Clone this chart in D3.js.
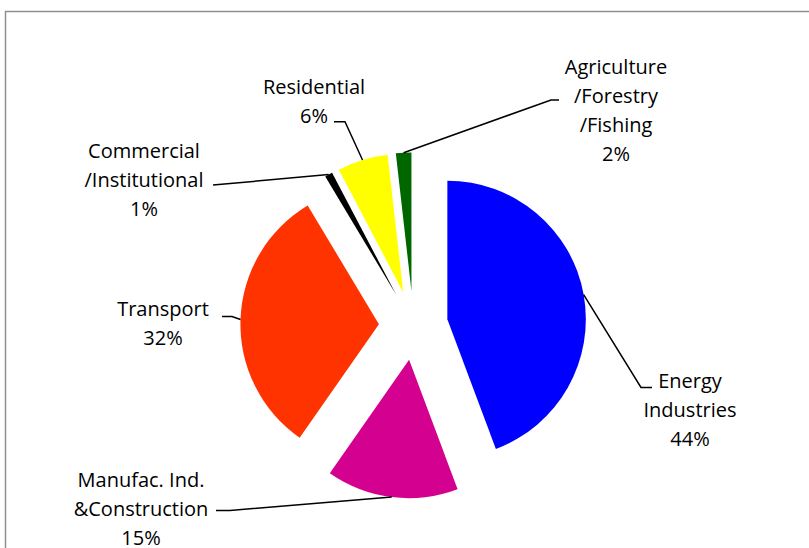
<!DOCTYPE html>
<html>
<head>
<meta charset="utf-8">
<script src="https://cdn.jsdelivr.net/npm/d3@7"></script>
<style>
  html, body { margin: 0; padding: 0; background: #fff; }
  svg { display: block; }
  text { font-family: "Open Sans", Carlito, Calibri, Lato, sans-serif; font-size: 20px; fill: #000; }
</style>
</head>
<body>
<svg id="chart" width="809" height="548"></svg>
<script>
// ---- data ----
const categories = ["Energy Industries", "Manufac. Ind. &Construction", "Transport",
                    "Commercial /Institutional", "Residential", "Agriculture /Forestry /Fishing"];
const labelLines = [["Energy", "Industries"], ["Manufac. Ind.", "&Construction"], ["Transport"],
                    ["Commercial", "/Institutional"], ["Residential"], ["Agriculture", "/Forestry", "/Fishing"]];
const values = [44.3, 15.4, 31.7, 0.9, 5.9, 1.8];
const colors = ["#0000FF", "#D4008F", "#FF3300", "#000000", "#FFFF00", "#006600"];

// ---- layout ----
const W = 809, H = 548;
const cx = 413.4, cy = 325.4, R = 138.5, explode = 34.5;
const lineH = 29;
// label anchor (center x, first baseline) and the elbow point of each leader line
const labelLayout = [
  { x: 690, y: 388, elbow: [641, 387.5], end: [652, 387.5] },
  { x: 141, y: 487, elbow: [230, 510.5], end: [216, 510.5] },
  { x: 163, y: 316, elbow: [232, 316.5], end: [222, 316.5] },
  { x: 144, y: 158, elbow: [213, 185], end: [213, 185] },
  { x: 314, y: 93.5, elbow: [345, 121.7], end: [334, 121.7] },
  { x: 616, y: 73.5, elbow: [551, 100], end: [559, 100] }
];

const svg = d3.select("#chart");

// outer frame
svg.append("rect")
  .attr("x", 5.5).attr("y", 11.5).attr("width", 900).attr("height", 700)
  .attr("fill", "none").attr("stroke", "#8f8f8f").attr("stroke-width", 1.5);

const total = d3.sum(values);
const pie = d3.pie().sort(null).value(d => d)(values);
const arc = d3.arc().innerRadius(0).outerRadius(R);

const g = svg.append("g").attr("transform", `translate(${cx},${cy})`);

const slices = g.selectAll("g.slice").data(pie).enter().append("g")
  .attr("class", "slice")
  .attr("transform", d => {
    const a = (d.startAngle + d.endAngle) / 2;
    return `translate(${explode * Math.sin(a)},${-explode * Math.cos(a)})`;
  });

slices.append("path")
  .attr("d", arc)
  .attr("fill", (d, i) => colors[i]);

// leader lines
pie.forEach((d, i) => {
  const a = (d.startAngle + d.endAngle) / 2;
  const sx = cx + (explode + R) * Math.sin(a);
  const sy = cy - (explode + R) * Math.cos(a);
  const L = labelLayout[i];
  svg.append("path")
    .attr("d", d3.line()([[sx, sy], L.elbow, L.end]))
    .attr("fill", "none").attr("stroke", "#000").attr("stroke-width", 1.5);
});

// labels
pie.forEach((d, i) => {
  const L = labelLayout[i];
  const pct = Math.round(d.value / total * 100) + "%";
  const lines = labelLines[i].concat([pct]);
  const t = svg.append("text").attr("text-anchor", "middle");
  lines.forEach((s, k) => {
    t.append("tspan").attr("x", L.x).attr("y", L.y + k * lineH).text(s);
  });
});
</script>
</body>
</html>
